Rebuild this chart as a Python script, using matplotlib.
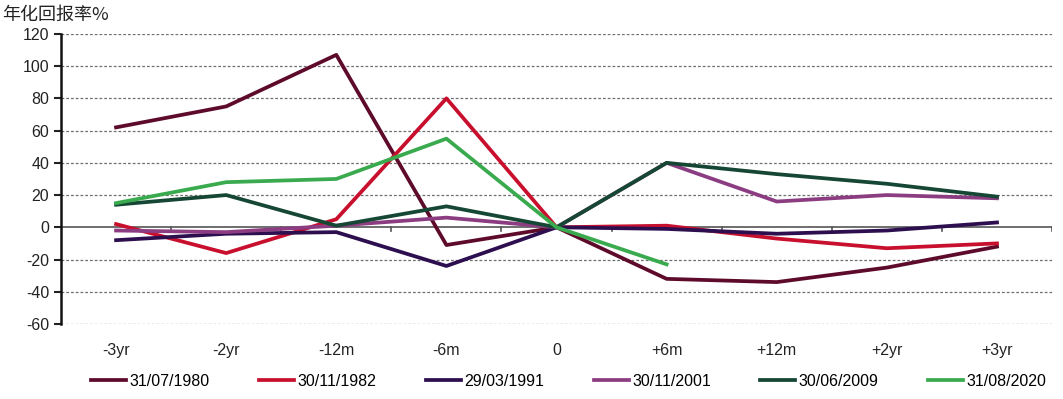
import matplotlib.pyplot as plt
import numpy as np

# 时间点与各周期的年化回报率（%）
periodes = ['-3yr', '-2yr', '-12m', '-6m', '0', '+6m', '+12m', '+2yr', '+3yr']
dates = ['31/07/1980', '30/11/1982', '29/03/1991', '30/11/2001', '30/06/2009', '31/08/2020']

r1980 = [62, 75, 107, -11, 0, -32, -34, -25, -12]
r1982 = [2, -16, 5, 80, 0, 1, -7, -13, -10]
r1991 = [-8, -4, -3, -24, 0, -1, -4, -2, 3]
r2001 = [-2, -3, 1, 6, 0, 40, 16, 20, 18]
r2009 = [14, 20, 1, 13, 0, 40, 33, 27, 19]
r2020 = [15, 28, 30, 55, 0, -23]

series = [r1980, r1982, r1991, r2001, r2009, r2020]
couleurs = ['#5e0b2b', '#c8102e', '#2d0f4f', '#8c3d82', '#154734', '#3aaa4f']

plt.rcParams['font.family'] = ['Liberation Sans', 'Noto Sans CJK SC']
plt.rcParams['axes.unicode_minus'] = False

fig = plt.figure(figsize=(10.63, 3.99), dpi=100)
ax = fig.add_axes([0.0574, 0.188, 0.9323, 0.727])

x = np.arange(len(periodes))
for vals, c, lab in zip(series, couleurs, dates):
    ax.plot(x[:len(vals)], vals, color=c, lw=2.7, label=lab, zorder=3)

ax.set_xlim(-0.5, len(periodes) - 0.5)
ax.set_ylim(-60, 120)
ax.set_yticks(np.arange(-60, 121, 20))
for v in np.arange(-60, 121, 20):
    if v != 0:
        ax.axhline(v, color='#6f6f6f', lw=0.9, ls=(0, (2.2, 1.6)), zorder=1)

# ligne zéro avec graduations entre les catégories
ax.axhline(0, color='#555555', lw=1.2, zorder=2)
for b in np.arange(0.5, len(periodes), 1):
    ax.plot([b, b], [0, -2.2], color='#555555', lw=1.2, zorder=2)

ax.set_xticks(x)
ax.set_xticklabels(periodes)
ax.tick_params(axis='x', length=0, pad=14, labelsize=11.5, colors='#222222')
ax.tick_params(axis='y', length=5, width=1.5, direction='out', labelsize=11.5, colors='#222222')

for s in ['top', 'right', 'bottom']:
    ax.spines[s].set_visible(False)
ax.spines['left'].set_linewidth(1.8)
ax.spines['left'].set_color('#111111')

fig.text(0.002, 0.962, '年化回报率%', fontsize=13, family=['Noto Sans CJK SC'], color='#222222', va='center')

fig.legend(loc='center', bbox_to_anchor=(0.535, 0.045), ncol=6, frameon=False,
           fontsize=11.5, handlelength=2.2, handletextpad=0.2, columnspacing=3.1)

plt.savefig('out.png', dpi=100)
